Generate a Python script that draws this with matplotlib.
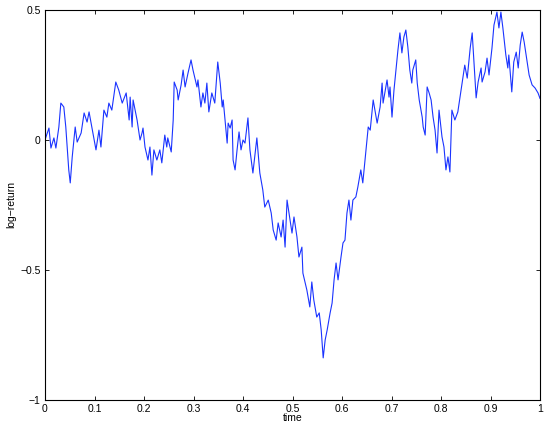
import matplotlib
matplotlib.use("Agg")
import matplotlib.pyplot as plt

# time and log-return values
time = [0.000, 0.002, 0.008, 0.012, 0.018, 0.022, 0.028, 0.032, 0.038, 0.042, 0.048, 0.051, 0.055,
        0.061, 0.065, 0.073, 0.079, 0.085, 0.089, 0.095, 0.103, 0.109, 0.113, 0.119, 0.125,
        0.129, 0.135, 0.143, 0.149, 0.156, 0.164, 0.170, 0.172, 0.176, 0.178, 0.186, 0.192,
        0.196, 0.198, 0.202, 0.208, 0.212, 0.216, 0.220, 0.226, 0.232, 0.236, 0.242, 0.246,
        0.248, 0.255, 0.259, 0.261, 0.267, 0.269, 0.275, 0.279, 0.283, 0.289, 0.295, 0.299,
        0.307, 0.309, 0.315, 0.319, 0.323, 0.327, 0.331, 0.337, 0.343, 0.349, 0.354, 0.358,
        0.360, 0.368, 0.370, 0.374, 0.378, 0.380, 0.384, 0.388, 0.392, 0.396, 0.400, 0.404,
        0.410, 0.414, 0.420, 0.428, 0.434, 0.440, 0.444, 0.451, 0.457, 0.461, 0.467, 0.471,
        0.477, 0.481, 0.485, 0.489, 0.493, 0.499, 0.503, 0.509, 0.513, 0.519, 0.521, 0.529,
        0.535, 0.539, 0.543, 0.549, 0.554, 0.558, 0.562, 0.566, 0.570, 0.576, 0.580, 0.584,
        0.588, 0.592, 0.598, 0.602, 0.606, 0.610, 0.614, 0.618, 0.622, 0.628, 0.632, 0.638,
        0.642, 0.648, 0.653, 0.657, 0.663, 0.671, 0.677, 0.681, 0.683, 0.691, 0.695, 0.697,
        0.701, 0.705, 0.709, 0.713, 0.717, 0.721, 0.725, 0.729, 0.733, 0.737, 0.741, 0.743,
        0.749, 0.752, 0.756, 0.762, 0.764, 0.768, 0.772, 0.776, 0.780, 0.784, 0.788, 0.792,
        0.796, 0.802, 0.806, 0.810, 0.814, 0.818, 0.822, 0.828, 0.834, 0.842, 0.848, 0.853,
        0.859, 0.863, 0.867, 0.871, 0.875, 0.881, 0.883, 0.889, 0.893, 0.897, 0.903, 0.907,
        0.913, 0.917, 0.921, 0.925, 0.931, 0.935, 0.937, 0.943, 0.947, 0.952, 0.956, 0.960,
        0.964, 0.968, 0.974, 0.978, 0.984, 0.990, 0.996, 1.000]
log_return = [0.000, 0.012, 0.046, -0.031, 0.008, -0.031, 0.050, 0.142, 0.127, 0.050, -0.115, -0.165, -0.065,
              0.050, -0.008, 0.027, 0.104, 0.069, 0.108, 0.046, -0.038, 0.038, -0.027, 0.115, 0.088,
              0.142, 0.115, 0.223, 0.192, 0.142, 0.181, 0.077, 0.165, 0.050, 0.154, 0.077, 0.000,
              0.027, 0.046, -0.027, -0.077, -0.027, -0.135, -0.038, -0.077, -0.038, -0.088, 0.019, -0.027,
              0.008, -0.046, 0.077, 0.223, 0.192, 0.154, 0.212, 0.269, 0.204, 0.258, 0.308, 0.269,
              0.204, 0.231, 0.127, 0.181, 0.142, 0.219, 0.108, 0.181, 0.142, 0.300, 0.219, 0.127,
              0.154, -0.012, 0.065, 0.046, 0.077, -0.077, -0.115, -0.038, 0.031, -0.038, 0.000, -0.012,
              0.085, -0.038, -0.127, 0.008, -0.127, -0.192, -0.258, -0.231, -0.281, -0.346, -0.385, -0.319,
              -0.373, -0.308, -0.412, -0.231, -0.281, -0.358, -0.296, -0.373, -0.450, -0.412, -0.512, -0.577,
              -0.642, -0.546, -0.615, -0.681, -0.665, -0.731, -0.838, -0.769, -0.731, -0.665, -0.627, -0.538,
              -0.473, -0.538, -0.450, -0.396, -0.385, -0.281, -0.231, -0.308, -0.231, -0.219, -0.181, -0.115,
              -0.165, -0.050, 0.050, 0.038, 0.154, 0.065, 0.127, 0.219, 0.142, 0.231, 0.165, 0.204,
              0.088, 0.192, 0.269, 0.346, 0.412, 0.335, 0.396, 0.423, 0.358, 0.269, 0.219, 0.269,
              0.308, 0.219, 0.154, 0.088, 0.050, 0.019, 0.204, 0.181, 0.154, 0.088, 0.038, -0.050,
              0.115, 0.012, -0.027, -0.115, -0.065, -0.123, 0.115, 0.077, 0.108, 0.212, 0.288, 0.238,
              0.354, 0.412, 0.288, 0.162, 0.223, 0.277, 0.223, 0.262, 0.315, 0.250, 0.354, 0.442,
              0.492, 0.431, 0.492, 0.431, 0.327, 0.277, 0.327, 0.185, 0.300, 0.338, 0.277, 0.365,
              0.415, 0.377, 0.300, 0.250, 0.212, 0.200, 0.181, 0.160]

x_ticks = [0, 0.1, 0.2, 0.3, 0.4, 0.5, 0.6, 0.7, 0.8, 0.9, 1]
x_tick_labels = ["0", "0.1", "0.2", "0.3", "0.4", "0.5", "0.6", "0.7", "0.8", "0.9", "1"]
y_ticks = [-1, -0.5, 0, 0.5]
y_tick_labels = ["\u22121", "\u22120.5", "0", "0.5"]

plt.rcParams['font.family'] = ['Liberation Sans', 'DejaVu Sans']

fig = plt.figure(figsize=(5.47, 4.32), dpi=100)
ax = fig.add_axes([45 / 547, 1 - 400 / 432, 495 / 547, 390 / 432])
ax.plot(time, log_return, color=(0.1, 0.2, 1.0), linewidth=0.8)

ax.set_xlim(0, 1)
ax.set_ylim(-1, 0.5)
ax.set_xticks(x_ticks)
ax.set_xticklabels(x_tick_labels)
ax.set_yticks(y_ticks)
ax.set_yticklabels(y_tick_labels)
ax.tick_params(direction='in', length=3, width=0.6, labelsize=7.5,
               top=True, right=True, pad=3)
for s in ax.spines.values():
    s.set_linewidth(0.8)
ax.set_xlabel("time", fontsize=7.5, labelpad=-1)
ax.set_ylabel("log\u2212return", fontsize=7.5, labelpad=3)

fig.savefig("out.png", dpi=100)
